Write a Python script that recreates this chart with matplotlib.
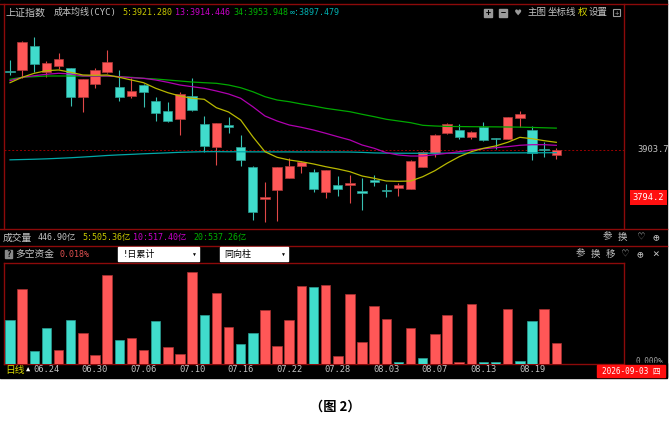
import numpy as np
import matplotlib
matplotlib.use('Agg')
import matplotlib.pyplot as plt
from matplotlib.patches import Rectangle
from matplotlib import transforms

plt.rcParams['font.family'] = ['DejaVu Sans Mono', 'DejaVu Sans', 'Noto Sans CJK SC']

# 日K线 (上证指数), 46 个交易日
opens = [4086.2, 4087.4, 4142.5, 4083.5, 4096.6, 4091.3, 4024.7, 4054.5, 4083.5, 4048.3,
         4027.0, 4052.9, 4015.5, 3993.9, 3975.6, 4027.7, 3964.1, 3909.9, 3961.8, 3911.3,
         3865.4, 3790.5, 3811.2, 3839.4, 3867.7, 3853.2, 3808.0, 3822.6, 3823.3, 3810.2,
         3834.1, 3812.5, 3817.1, 3814.8, 3865.4, 3896.1, 3942.7, 3949.6, 3933.5, 3955.8,
         3930.5, 3929.6, 3977.2, 3949.6, 3906.7, 3891.5]
highs = [4110.3, 4154.0, 4163.8, 4108.7, 4125.7, 4092.7, 4067.4, 4091.3, 4133.3, 4087.4,
         4068.3, 4054.5, 4024.7, 4014.6, 4036.2, 4068.3, 3981.8, 3965.7, 3980.2, 3938.1,
         3867.7, 3830.9, 3864.0, 3884.6, 3879.1, 3860.1, 3857.8, 3844.0, 3845.6, 3838.7,
         3845.6, 3825.6, 3827.2, 3880.7, 3901.4, 3939.7, 3966.4, 3963.4, 3947.3, 3968.0,
         3930.5, 3980.2, 3993.9, 3958.8, 3922.8, 3909.0]
lows = [4075.9, 4069.0, 4083.5, 4072.0, 4089.0, 4004.7, 3991.6, 4046.7, 4079.8, 4016.2,
        4023.8, 4001.7, 3971.0, 3967.3, 3938.1, 3993.9, 3899.8, 3868.6, 3943.4, 3867.7,
        3743.0, 3739.1, 3740.7, 3839.4, 3851.6, 3808.0, 3792.8, 3798.1, 3781.3, 3765.9,
        3821.7, 3796.5, 3798.8, 3814.8, 3865.4, 3888.3, 3939.7, 3929.6, 3928.3, 3925.1,
        3905.3, 3929.6, 3955.8, 3880.7, 3888.3, 3883.7]
closes = [4083.9, 4152.4, 4100.5, 4104.1, 4111.9, 4024.7, 4067.4, 4087.4, 4105.1, 4026.1,
          4039.2, 4036.9, 3988.0, 3970.3, 4032.3, 3994.9, 3912.9, 3965.7, 3955.8, 3881.4,
          3762.0, 3795.1, 3864.0, 3866.8, 3876.8, 3814.2, 3857.8, 3813.5, 3827.9, 3805.0,
          3830.9, 3809.6, 3823.3, 3877.8, 3899.8, 3938.8, 3964.1, 3933.5, 3945.0, 3927.4,
          3928.3, 3980.2, 3987.0, 3896.1, 3904.4, 3903.7]

# 成本均线 CYC
cyc5 = [4058.2, 4070.6, 4079.8, 4085.8, 4087.4, 4082.1, 4075.9, 4075.2, 4075.9, 4070.6,
        4064.4, 4058.2, 4045.4, 4035.3, 4027.7, 4022.4, 4020.1, 4000.8, 3991.0, 3972.6,
        3934.2, 3899.8, 3886.9, 3880.7, 3876.8, 3871.6, 3865.4, 3860.1, 3853.9, 3844.0,
        3838.7, 3832.5, 3831.8, 3832.5, 3842.4, 3856.2, 3873.2, 3888.3, 3899.8, 3907.6,
        3912.9, 3921.4, 3932.8, 3929.6, 3925.1, 3921.3]
cyc13 = [4062.8, 4070.6, 4074.3, 4077.5, 4079.8, 4078.2, 4073.6, 4073.6, 4073.6, 4072.0,
         4069.7, 4068.3, 4064.4, 4059.1, 4052.9, 4049.0, 4045.4, 4039.2, 4032.3, 4022.4,
         4003.1, 3981.8, 3970.3, 3961.1, 3955.8, 3949.6, 3942.1, 3934.2, 3926.7, 3915.2,
         3907.6, 3897.5, 3892.2, 3889.9, 3889.9, 3892.9, 3896.1, 3899.8, 3903.7, 3906.7,
         3909.0, 3911.3, 3914.5, 3915.9, 3915.9, 3914.4]
cyc34 = [4066.0, 4070.6, 4072.0, 4073.6, 4073.6, 4073.6, 4073.6, 4073.6, 4073.6, 4072.0,
         4070.6, 4068.3, 4066.7, 4064.4, 4062.1, 4059.8, 4058.2, 4056.8, 4052.9, 4046.7,
         4037.5, 4026.1, 4018.5, 4014.6, 4009.3, 4004.7, 3999.4, 3995.5, 3991.6, 3985.7,
         3980.2, 3974.2, 3970.3, 3966.4, 3960.4, 3958.8, 3957.8, 3957.5, 3957.2, 3957.0,
         3956.8, 3956.5, 3956.2, 3955.5, 3954.7, 3953.9]
cyc_inf = [3881.1, 3881.8, 3882.5, 3883.4, 3884.6, 3885.9, 3887.5, 3889.2, 3891.1, 3892.5,
           3893.7, 3895.0, 3896.1, 3897.2, 3898.4, 3899.1, 3899.8, 3899.8, 3899.6, 3899.6,
           3899.4, 3899.4, 3899.3, 3899.3, 3899.2, 3899.2, 3899.1, 3899.1, 3899.0, 3898.2,
           3897.0, 3896.5, 3896.3, 3896.2, 3896.2, 3896.3, 3896.4, 3896.5, 3896.6, 3896.8,
           3896.9, 3897.0, 3897.1, 3897.2, 3897.4, 3897.5]

# 多空资金 (%), 1 = 多(红) 0 = 空(青)
fund_vals = [0.038, 0.065, 0.011, 0.031, 0.012, 0.038, 0.027, 0.008, 0.077, 0.021,
             0.023, 0.012, 0.037, 0.015, 0.009, 0.080, 0.043, 0.062, 0.032, 0.017,
             0.027, 0.047, 0.016, 0.038, 0.068, 0.067, 0.069, 0.007, 0.061, 0.019,
             0.050, 0.039, 0.002, 0.031, 0.005, 0.026, 0.043, 0.0015, 0.052, 0.0015,
             0.002, 0.048, 0.003, 0.037, 0.048, 0.018]
fund_long = [0, 1, 0, 0, 1, 0, 1, 1, 1, 0, 1, 1, 0, 1, 1, 1, 0, 1, 1, 0, 0, 1, 1, 1, 1,
             0, 1, 1, 1, 1, 1, 1, 0, 1, 0, 1, 1, 1, 1, 0, 0, 1, 0, 0, 1, 1]

tick_idx = [3, 7, 11, 15, 19, 23, 27, 31, 35, 39, 43]
tick_labels = ['06.24', '06.30', '07.06', '07.10', '07.16', '07.22',
               '07.28', '08.03', '08.07', '08.13', '08.19']

RED = '#ff5757'
TEAL = '#40dccc'
FRAME = '#8c0a0a'
GREY = '#c4c4c4'

fig = plt.figure(figsize=(6.7, 4.28), dpi=100)
fig.patch.set_facecolor('white')

# 背景层, 像素坐标
bg = fig.add_axes([0, 0, 1, 1])
bg.set_xlim(0, 670)
bg.set_ylim(428, 0)
bg.axis('off')
bg.add_patch(Rectangle((0, 0), 667, 377.5, color='black', zorder=0))

# 边框线
for y0 in (4, 229, 245.5):
    bg.plot([0, 667], [y0, y0], color=FRAME, lw=1.0)
bg.plot([3.5, 624], [263, 263], color=FRAME, lw=1.0)
bg.plot([3.5, 624], [364, 364], color=FRAME, lw=1.0)
bg.plot([3.5, 3.5], [4, 229], color=FRAME, lw=1.0)
bg.plot([3.5, 3.5], [263, 364], color=FRAME, lw=1.0)
bg.plot([624, 624], [4, 229], color=FRAME, lw=1.0)
bg.plot([624, 624], [263, 364], color=FRAME, lw=1.0)

# 标题行
bg.text(6, 12.7, '上证指数', color=GREY, fontsize=7.2, va='center')
bg.text(54, 12.7, '成本均线(CYC)', color=GREY, fontsize=6.5, va='center')
bg.text(122, 12.7, '5:3921.280', color='#c8c800', fontsize=6.0, va='center')
bg.text(175, 12.7, '13:3914.446', color='#c800c8', fontsize=6.0, va='center')
bg.text(233, 12.7, '34:3953.948', color='#00b000', fontsize=6.0, va='center')
bg.text(290, 12.7, '∞:3897.479', color='#00b0b0', fontsize=6.0, va='center')

for xc, sym in ((488, '+'), (503, '−')):
    bg.add_patch(Rectangle((xc - 4, 8.5), 8, 8, color='#9a9a9a', zorder=2))
    bg.text(xc, 12.6, sym, color='black', fontsize=6, ha='center', va='center',
            fontweight='bold', zorder=3)
bg.text(518, 12.7, '♥', color='#9a9a9a', fontsize=7.5, ha='center', va='center')
bg.text(528, 12.7, '主图', color=GREY, fontsize=6.8, va='center')
bg.text(548, 12.7, '坐标线', color=GREY, fontsize=6.8, va='center')
bg.text(578, 12.7, '权', color='#d8d800', fontsize=6.8, va='center')
bg.text(589, 12.7, '设置', color=GREY, fontsize=6.8, va='center')
bg.add_patch(Rectangle((613, 9), 7, 7, fill=False, ec='#9a9a9a', lw=0.8))
bg.text(616.5, 12.6, '+', color='#9a9a9a', fontsize=5, ha='center', va='center')

# 成交量行
bg.text(3, 237.5, '成交量', color=GREY, fontsize=7, va='center')
bg.text(38, 237.5, '446.90亿', color=GREY, fontsize=6.0, va='center')
bg.text(82, 237.5, '5:505.36亿', color='#c8c800', fontsize=6.0, va='center')
bg.text(133, 237.5, '10:517.40亿', color='#c800c8', fontsize=6.0, va='center')
bg.text(193, 237.5, '20:537.26亿', color='#00b000', fontsize=6.0, va='center')
for xc, s, fs in ((607, '参', 6.8), (622, '换', 6.8), (641, '♡', 8), (656, '⊕', 8)):
    bg.text(xc, 237, s, color=GREY, fontsize=fs, ha='center', va='center')

# 多空资金行
bg.add_patch(Rectangle((5, 250), 7, 8, color='#8a8a8a'))
bg.text(8.5, 254.2, '?', color='black', fontsize=5.5, ha='center', va='center', fontweight='bold')
bg.text(15, 254.5, '多空资金', color=GREY, fontsize=7, va='center')
bg.text(59, 254.5, '0.018%', color='#e05050', fontsize=6.0, va='center')
bg.add_patch(Rectangle((118, 247), 81, 14, color='white', zorder=2))
bg.text(123, 254.3, '!日累计', color='black', fontsize=6.5, va='center', zorder=3)
bg.text(194, 254.3, '▼', color='black', fontsize=3.5, ha='center', va='center', zorder=3)
bg.add_patch(Rectangle((220, 247), 68, 14, color='white', zorder=2))
bg.text(224, 254.3, '同向柱', color='black', fontsize=6.5, va='center', zorder=3)
bg.text(283, 254.3, '▼', color='black', fontsize=3.5, ha='center', va='center', zorder=3)
for xc, s, fs in ((580, '参', 6.8), (595, '换', 6.8), (610, '移', 6.8),
                  (625, '♡', 8), (640, '⊕', 8), (656, '×', 8)):
    bg.text(xc, 254, s, color=GREY, fontsize=fs, ha='center', va='center')

# 0.000% 下半被日期行遮住
bg.text(636, 361.3, '0.000%', color='#a0a0a0', fontsize=5.5, va='center', zorder=1)
bg.add_patch(Rectangle((625, 363.3), 42, 14, color='black', zorder=1.5))

# 日期行
bg.text(5, 370, '日线', color='#d8d800', fontsize=7, va='center')
bg.text(28, 370, '▲', color='white', fontsize=5, ha='center', va='center')
bg.add_patch(Rectangle((597, 364.5), 68, 12, color='#ff1010', zorder=2))
bg.text(631, 370.7, '2026-09-03 四', color='white', fontsize=5.6, ha='center', va='center', zorder=3)

# 图 2
bg.text(335, 407, '（图 2）', color='black', fontsize=9.5, ha='center', va='center',
        fontweight='bold', family=['Noto Sans CJK SC'])

xs = np.arange(len(closes))
xlim = (-6 / 12.14, 614 / 12.14)

# K线主图
ax = fig.add_axes([4 / 670, 1 - 229 / 428, 620 / 670, 225 / 428])
ax.set_facecolor('none')
ax.set_xlim(*xlim)
ax.set_ylim(3722.3, 4238.9)
ax.axis('off')

o = np.array(opens)
c = np.array(closes)
up = c >= o
cols = [RED if u else TEAL for u in up]
wick_cols = ['#e04848' if u else '#38c0b2' for u in up]
ax.vlines(xs, lows, highs, colors=wick_cols, lw=0.8, zorder=2)
body_h = np.maximum(np.abs(c - o), 1.6)
ax.bar(xs, body_h, bottom=np.minimum(o, c), width=0.77, color=cols,
       edgecolor=['#b03838' if u else '#2a9c92' for u in up], lw=0.5, zorder=3)

ax.plot(xs, cyc_inf, color='#00a8a8', lw=0.9, zorder=4)
ax.plot(xs, cyc34, color='#00a800', lw=0.9, zorder=4)
ax.plot(xs, cyc13, color='#b000b0', lw=0.9, zorder=4)
ax.plot(xs, cyc5, color='#b8b800', lw=0.9, zorder=4)
ax.axhline(closes[-1], color='#9a0000', lw=0.7, ls=(0, (2, 2)), zorder=1)

ytr = transforms.blended_transform_factory(ax.transAxes, ax.transData)
ax.text(1.0468, closes[-1], '3903.7', transform=ytr,
        color=GREY, fontsize=6.3, ha='center', va='center', clip_on=False)
ax.text(1.0395, 3794.2, '3794.2', transform=ytr,
        color='white', fontsize=6.3, ha='center', va='center', clip_on=False,
        bbox=dict(boxstyle='square,pad=0.35', fc='#ff1010', ec='none'))

# 多空资金柱
ax2 = fig.add_axes([4 / 670, 1 - 364 / 428, 620 / 670, 101 / 428])
ax2.set_facecolor('none')
ax2.set_xlim(*xlim)
ax2.set_ylim(0, 0.0878)
ax2.axis('off')
ax2.bar(xs, fund_vals, width=0.78,
        color=[RED if f else TEAL for f in fund_long],
        edgecolor=['#a83030' if f else '#2a9c92' for f in fund_long], lw=0.5)

tr = transforms.blended_transform_factory(ax2.transData, ax2.transAxes)
for i, lab in zip(tick_idx, tick_labels):
    ax2.text(i, -0.058, lab, transform=tr, color=GREY, fontsize=6.3,
             ha='center', va='center', clip_on=False)

fig.savefig('out.png', dpi=100, facecolor='white')
